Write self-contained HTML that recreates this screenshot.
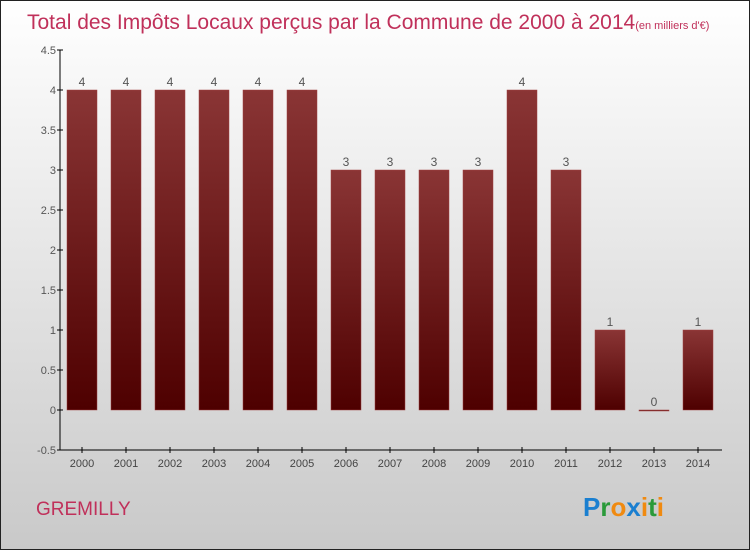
<!DOCTYPE html>
<html><head><meta charset="utf-8"><style>
body{margin:0}
#wrap{position:relative;width:748px;height:548px;border:1px solid #222;background:linear-gradient(#fff,#c9c9c9);font-family:"Liberation Sans",sans-serif;overflow:hidden}
</style></head><body>
<div id="wrap">
<svg id="c" width="748" height="548">
<defs><linearGradient id="g" x1="0" y1="0" x2="0" y2="1"><stop offset="0" stop-color="#8a3535"/><stop offset="1" stop-color="#4e0000"/></linearGradient></defs>
<text x="26" y="28" font-size="21" fill="#c0305a">Total des Impôts Locaux perçus par la Commune de 2000 à 2014<tspan font-size="11">(en milliers d'€)</tspan></text>
<text x="35" y="514" font-size="19" fill="#c0305a">GREMILLY</text>
<text x="582" y="515" font-size="26" font-weight="bold"><tspan fill="#1a7fd0">P</tspan><tspan fill="#2a9a3a">r</tspan><tspan fill="#f08a10">o</tspan><tspan fill="#1a7fd0">x</tspan><tspan fill="#f08a10">i</tspan><tspan fill="#2a9a3a">t</tspan><tspan fill="#f08a10">i</tspan></text>
</svg>
</div>
<script>
const categories=["2000","2001","2002","2003","2004","2005","2006","2007","2008","2009","2010","2011","2012","2013","2014"];
const values=[4,4,4,4,4,4,3,3,3,3,4,3,1,0,1];
const yTicks=[-0.5,0,0.5,1,1.5,2,2.5,3,3.5,4,4.5];
const yTickLabels=["-0.5","0","0.5","1","1.5","2","2.5","3","3.5","4","4.5"];
const svg=document.getElementById('c');const NS="http://www.w3.org/2000/svg";
const y=v=>409-v*80, x=i=>81+i*44;
function mk(t,a){const e=document.createElementNS(NS,t);for(const k in a)e.setAttribute(k,a[k]);svg.appendChild(e);return e;}
let ax=mk('line',{x1:59,y1:49,x2:59,y2:449,stroke:'#000'});


let xx=mk('line',{x1:59,y1:449,x2:721,y2:449,stroke:'#000'});


yTicks.forEach((v,i)=>{mk('line',{x1:56,y1:y(v),x2:62,y2:y(v),stroke:'#000'});
const t=mk('text',{x:55,y:y(v)+4,'font-size':11,fill:'#555','text-anchor':'end'});t.textContent=yTickLabels[i];

});
categories.forEach((c,i)=>{const v=values[i];const top=Math.min(y(v),y(0)),h=Math.max(Math.abs(y(v)-y(0)),1);
const r=mk('rect',{x:x(i)-15,y:top,width:30,height:h,fill:'url(#g)',stroke:'#a04040','stroke-width':0.5});


const l=mk('text',{x:x(i),y:top-4,'font-size':12,fill:'#555','text-anchor':'middle'});l.textContent=v;


mk('line',{x1:x(i),y1:446,x2:x(i),y2:452,stroke:'#000'});
const t=mk('text',{x:x(i),y:466,'font-size':11,fill:'#444','text-anchor':'middle'});t.textContent=c;

});
</script>
</body></html>
